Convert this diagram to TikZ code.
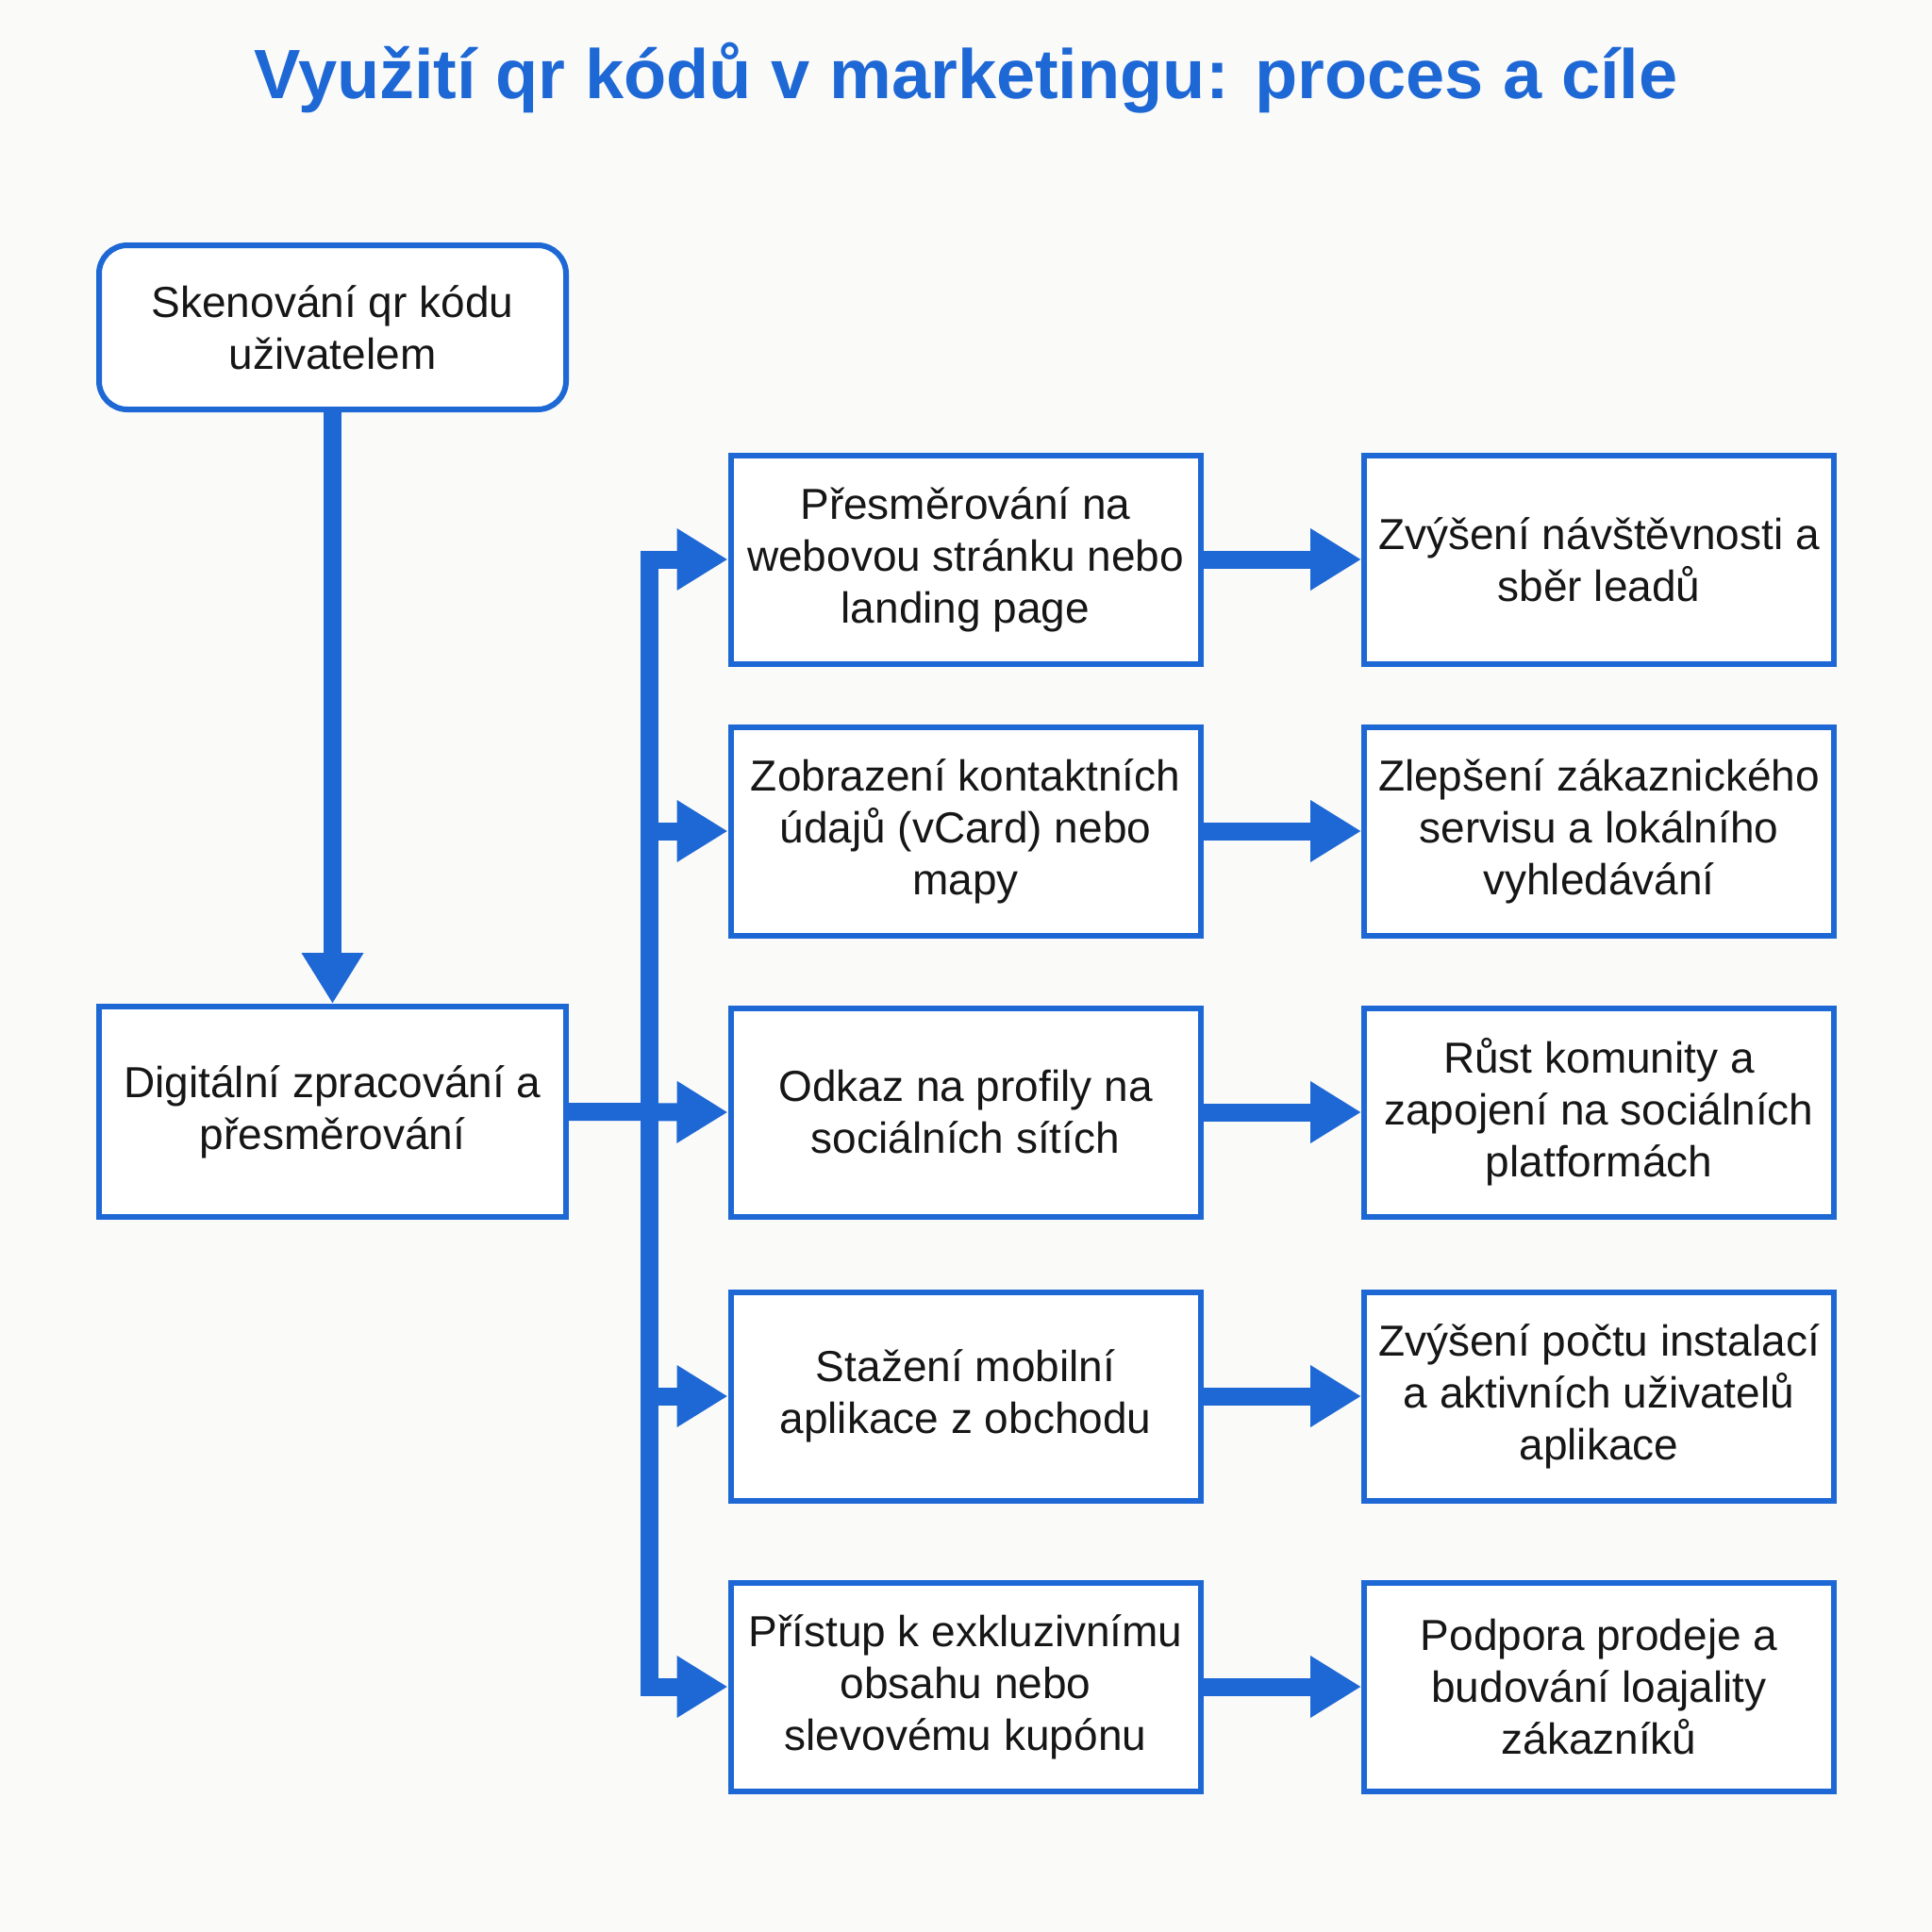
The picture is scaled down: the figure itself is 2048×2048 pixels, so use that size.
\documentclass[tikz,border=0pt]{standalone}
\usepackage{fontspec}
\setmainfont{Liberation Sans}
\usetikzlibrary{arrows.meta}
\definecolor{bluemain}{RGB}{30,104,214}
\definecolor{bgcol}{RGB}{250,250,248}
\definecolor{txtcol}{RGB}{22,22,22}
\begin{document}
\begin{tikzpicture}[x=1pt,y=-1pt,
  box/.style={draw=bluemain, line width=6pt, fill=white, text=txtcol,
    minimum width=498pt, minimum height=221pt, align=center, inner sep=0pt,
    font=\fontsize{46}{55}\selectfont},
  rbox/.style={box, rounded corners=30pt, minimum height=174pt},
  conn/.style={draw=bluemain, line width=19pt,
    -{Triangle[length=54pt,width=62pt]}},
  trunk/.style={draw=bluemain, line width=19pt, line cap=rect}
]
\fill[bgcol] (0,0) rectangle (2048,2048);
\useasboundingbox (0,0) rectangle (2048,2048);

\node[text=bluemain, font=\fontsize{74}{80}\selectfont\bfseries, anchor=base]
  (title) at (1024,104) {Využití qr kódů v marketingu: proces a cíle};

\node[rbox, minimum width=495pt] (A) at (352.5,347) {Skenování qr kódu\\uživatelem};
\node[box, minimum width=495pt, minimum height=223pt] (B) at (352.5,1178.5) {Digitální zpracování a\\přesměrování};

\node[box] (m1) at (1023.5,593) {Přesměrování na\\webovou stránku nebo\\landing page};
\node[box] (m2) at (1023.5,881) {Zobrazení kontaktních\\údajů (vCard) nebo\\mapy};
\node[box] (m3) at (1023.5,1179) {Odkaz na profily na\\sociálních sítích};
\node[box] (m4) at (1023.5,1480) {Stažení mobilní\\aplikace z obchodu};
\node[box] (m5) at (1023.5,1788) {Přístup k exkluzivnímu\\obsahu nebo\\slevovému kupónu};

\node[box] (r1) at (1695,593) {Zvýšení návštěvnosti a\\sběr leadů};
\node[box] (r2) at (1695,881) {Zlepšení zákaznického\\servisu a lokálního\\vyhledávání};
\node[box] (r3) at (1695,1179) {Růst komunity a\\zapojení na sociálních\\platformách};
\node[box] (r4) at (1695,1480) {Zvýšení počtu instalací\\a aktivních uživatelů\\aplikace};
\node[box] (r5) at (1695,1788) {Podpora prodeje a\\budování loajality\\zákazníků};

\coordinate (t1) at (688,593);
\coordinate (t2) at (688,881);
\coordinate (t3) at (688,1179);
\coordinate (t4) at (688,1480);
\coordinate (t5) at (688,1788);

\draw[conn] (A.south) -- (B.north);
\draw[trunk] (t1) -- (t5);
\draw[conn] (B.east) -- (m3.west);
\draw[conn] (t1) -- (m1.west);
\draw[conn] (t2) -- (m2.west);
\draw[conn] (t4) -- (m4.west);
\draw[conn] (t5) -- (m5.west);

\draw[conn] (m1.east) -- (r1.west);
\draw[conn] (m2.east) -- (r2.west);
\draw[conn] (m3.east) -- (r3.west);
\draw[conn] (m4.east) -- (r4.west);
\draw[conn] (m5.east) -- (r5.west);
\end{tikzpicture}
\end{document}
